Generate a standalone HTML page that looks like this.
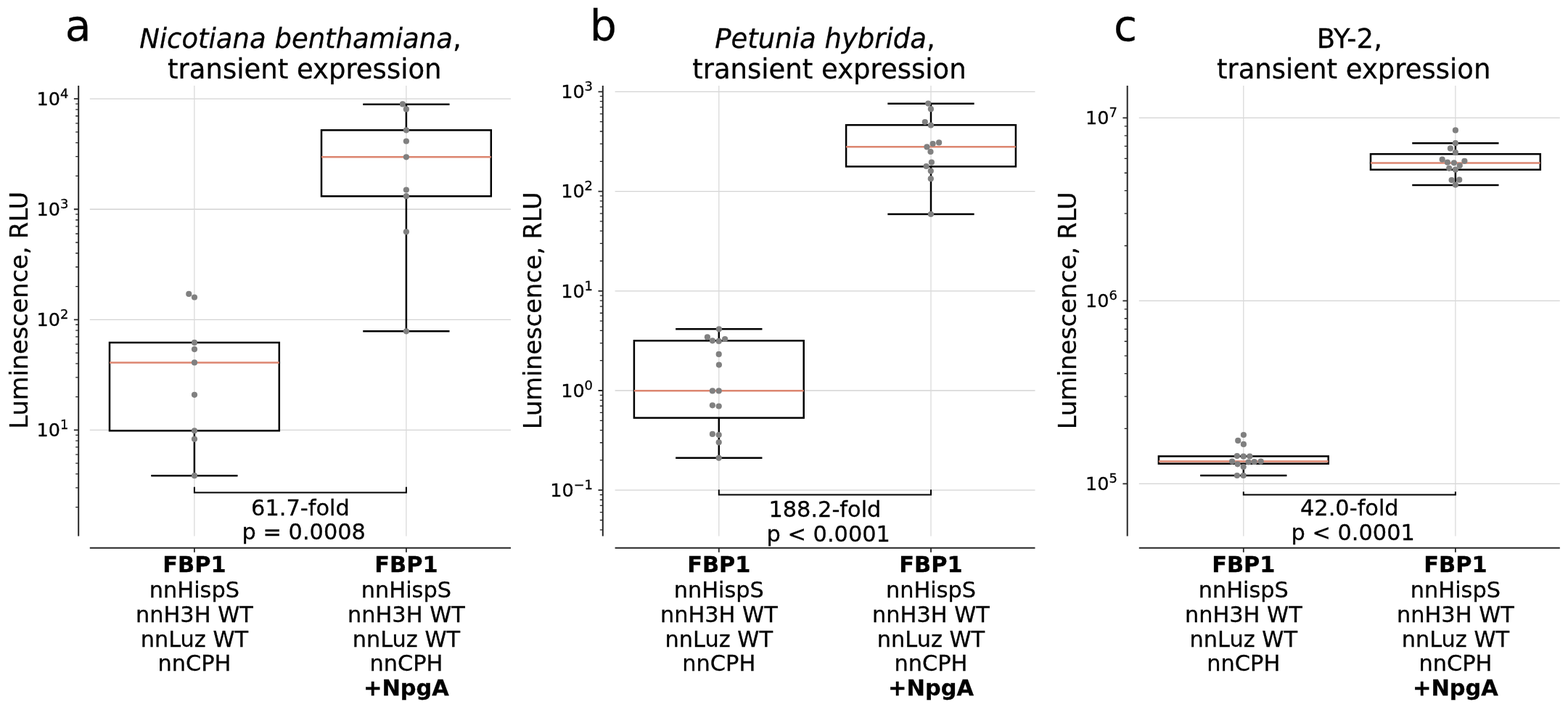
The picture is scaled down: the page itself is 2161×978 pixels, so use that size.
<!DOCTYPE html>
<html><head><meta charset="utf-8"><title>Figure</title>
<style>html,body{margin:0;padding:0;background:#fff;}body{width:2161px;height:978px;overflow:hidden;}svg{display:block;}</style>
</head><body>
<svg width="2161" height="978" viewBox="0 0 2161 978" font-family='"DejaVu Sans", "Liberation Sans", sans-serif'>
<rect width="2161" height="978" fill="#fff"/>
<style>text{stroke:#000;stroke-width:0.3px;paint-order:stroke;}</style>
<path d="M123.8 592.38H704 M123.8 440.31H704 M123.8 288.24H704 M123.8 136.17H704" stroke="#d3d3d3" stroke-width="1.3" fill="none"/>
<path d="M267.9 118V738.4 M559.9 118V738.4" stroke="#dadada" stroke-width="1.3" fill="none"/>
<path d="M108.2 118V738.4M123.8 754.8H704" stroke="#262626" stroke-width="2.0" fill="none"/>
<path d="M101.9 592.38H108.2 M101.9 440.31H108.2 M101.9 288.24H108.2 M101.9 136.17H108.2 M267.9 754.8V760.8 M559.9 754.8V760.8" stroke="#262626" stroke-width="1.8" fill="none"/>
<path d="M104.2 698.67H108.2 M104.2 671.89H108.2 M104.2 652.89H108.2 M104.2 638.16H108.2 M104.2 626.12H108.2 M104.2 615.94H108.2 M104.2 607.12H108.2 M104.2 599.34H108.2 M104.2 546.6H108.2 M104.2 519.82H108.2 M104.2 500.82H108.2 M104.2 486.09H108.2 M104.2 474.05H108.2 M104.2 463.87H108.2 M104.2 455.05H108.2 M104.2 447.27H108.2 M104.2 394.53H108.2 M104.2 367.75H108.2 M104.2 348.75H108.2 M104.2 334.02H108.2 M104.2 321.98H108.2 M104.2 311.8H108.2 M104.2 302.98H108.2 M104.2 295.2H108.2 M104.2 242.46H108.2 M104.2 215.68H108.2 M104.2 196.68H108.2 M104.2 181.95H108.2 M104.2 169.91H108.2 M104.2 159.73H108.2 M104.2 150.91H108.2 M104.2 143.13H108.2" stroke="#262626" stroke-width="1.3" fill="none"/>
<text x="94.4" y="601.08" font-size="25.5" text-anchor="end">10<tspan font-size="17.9" dy="-9.9">1</tspan></text>
<text x="94.4" y="449.01" font-size="25.5" text-anchor="end">10<tspan font-size="17.9" dy="-9.9">2</tspan></text>
<text x="94.4" y="296.94" font-size="25.5" text-anchor="end">10<tspan font-size="17.9" dy="-9.9">3</tspan></text>
<text x="94.4" y="144.87" font-size="25.5" text-anchor="end">10<tspan font-size="17.9" dy="-9.9">4</tspan></text>
<path d="M267.9 593.3V655.2" stroke="#000" stroke-width="2.5" fill="none"/>
<path d="M209.5 655.2H326.3" stroke="#000" stroke-width="2.5" fill="none" stroke-linecap="square"/>
<rect x="151" y="471.9" width="233.8" height="121.4" stroke="#000" stroke-width="2.5" fill="none"/>
<path d="M151 499.4H384.8" stroke="#dc8670" stroke-width="2.5" fill="none"/>
<path d="M559.9 270.3V456.3M559.9 179.3V143.7" stroke="#000" stroke-width="2.5" fill="none"/>
<path d="M501.5 456.3H618.3M501.5 143.7H618.3" stroke="#000" stroke-width="2.5" fill="none" stroke-linecap="square"/>
<rect x="443" y="179.3" width="233.8" height="91" stroke="#000" stroke-width="2.5" fill="none"/>
<path d="M443 216.3H676.8" stroke="#dc8670" stroke-width="2.5" fill="none"/>
<circle cx="260.3" cy="404.9" r="4.1" fill="#808080"/>
<circle cx="268" cy="409.5" r="4.1" fill="#808080"/>
<circle cx="268" cy="471.9" r="4.1" fill="#808080"/>
<circle cx="268" cy="481.1" r="4.1" fill="#808080"/>
<circle cx="268" cy="499.4" r="4.1" fill="#808080"/>
<circle cx="268" cy="543.8" r="4.1" fill="#808080"/>
<circle cx="268" cy="593.3" r="4.1" fill="#808080"/>
<circle cx="268" cy="604.8" r="4.1" fill="#808080"/>
<circle cx="268" cy="655.2" r="4.1" fill="#808080"/>
<circle cx="554.9" cy="143.4" r="4.1" fill="#808080"/>
<circle cx="559.9" cy="150.4" r="4.1" fill="#808080"/>
<circle cx="559.9" cy="179.3" r="4.1" fill="#808080"/>
<circle cx="559.9" cy="194.5" r="4.1" fill="#808080"/>
<circle cx="559.9" cy="216.3" r="4.1" fill="#808080"/>
<circle cx="559.9" cy="261.5" r="4.1" fill="#808080"/>
<circle cx="559.9" cy="270.2" r="4.1" fill="#808080"/>
<circle cx="559.9" cy="319.3" r="4.1" fill="#808080"/>
<circle cx="559.9" cy="456.3" r="4.1" fill="#808080"/>
<path d="M267.9 670.8V678.5H559.9V670.8" stroke="#000" stroke-width="2.0" fill="none"/>
<text x="413.9" y="709.6" font-size="30.4" text-anchor="middle">61.7-fold</text>
<text x="418.7" y="742.9" font-size="30.4" text-anchor="middle">p = 0.0008</text>
<text x="267.9" y="788.3" font-size="30.4" text-anchor="middle" font-weight="bold">FBP1</text>
<text x="267.9" y="823" font-size="30.4" text-anchor="middle">nnHispS</text>
<text x="267.9" y="856.9" font-size="30.4" text-anchor="middle">nnH3H WT</text>
<text x="267.9" y="890.8" font-size="30.4" text-anchor="middle">nnLuz WT</text>
<text x="267.9" y="924.2" font-size="30.4" text-anchor="middle">nnCPH</text>
<text x="559.9" y="788.3" font-size="30.4" text-anchor="middle" font-weight="bold">FBP1</text>
<text x="559.9" y="823" font-size="30.4" text-anchor="middle">nnHispS</text>
<text x="559.9" y="856.9" font-size="30.4" text-anchor="middle">nnH3H WT</text>
<text x="559.9" y="890.8" font-size="30.4" text-anchor="middle">nnLuz WT</text>
<text x="559.9" y="924.2" font-size="30.4" text-anchor="middle">nnCPH</text>
<text x="559.9" y="957.7" font-size="30.4" text-anchor="middle" font-weight="bold">+NpgA</text>
<text transform="translate(37.5 427.3) rotate(-90)" font-size="33.6" text-anchor="middle">Luminescence, RLU</text>
<text x="413.9" y="66.0" font-size="37" text-anchor="middle"><tspan font-style="italic">Nicotiana benthamiana</tspan>,</text>
<text x="419.8" y="107.7" font-size="37" text-anchor="middle">transient expression</text>
<text x="89.7" y="56.2" font-size="58.5">a</text>
<path d="M847.6 675.2H1426.5 M847.6 538H1426.5 M847.6 400.8H1426.5 M847.6 263.6H1426.5 M847.6 126.4H1426.5" stroke="#d3d3d3" stroke-width="1.3" fill="none"/>
<path d="M990.8 118V738.4 M1283 118V738.4" stroke="#dadada" stroke-width="1.3" fill="none"/>
<path d="M830.8 118V738.4M847.6 754.8H1426.5" stroke="#262626" stroke-width="2.0" fill="none"/>
<path d="M824.5 675.2H830.8 M824.5 538H830.8 M824.5 400.8H830.8 M824.5 263.6H830.8 M824.5 126.4H830.8 M990.8 754.8V760.8 M1283 754.8V760.8" stroke="#262626" stroke-width="1.8" fill="none"/>
<path d="M826.8 729.8H830.8 M826.8 716.5H830.8 M826.8 705.64H830.8 M826.8 696.45H830.8 M826.8 688.5H830.8 M826.8 681.48H830.8 M826.8 633.9H830.8 M826.8 609.74H830.8 M826.8 592.6H830.8 M826.8 579.3H830.8 M826.8 568.44H830.8 M826.8 559.25H830.8 M826.8 551.3H830.8 M826.8 544.28H830.8 M826.8 496.7H830.8 M826.8 472.54H830.8 M826.8 455.4H830.8 M826.8 442.1H830.8 M826.8 431.24H830.8 M826.8 422.05H830.8 M826.8 414.1H830.8 M826.8 407.08H830.8 M826.8 359.5H830.8 M826.8 335.34H830.8 M826.8 318.2H830.8 M826.8 304.9H830.8 M826.8 294.04H830.8 M826.8 284.85H830.8 M826.8 276.9H830.8 M826.8 269.88H830.8 M826.8 222.3H830.8 M826.8 198.14H830.8 M826.8 181H830.8 M826.8 167.7H830.8 M826.8 156.84H830.8 M826.8 147.65H830.8 M826.8 139.7H830.8 M826.8 132.68H830.8" stroke="#262626" stroke-width="1.3" fill="none"/>
<text x="817" y="683.9" font-size="25.5" text-anchor="end">10<tspan font-size="17.9" dy="-9.9">−1</tspan></text>
<text x="817" y="546.7" font-size="25.5" text-anchor="end">10<tspan font-size="17.9" dy="-9.9">0</tspan></text>
<text x="817" y="409.5" font-size="25.5" text-anchor="end">10<tspan font-size="17.9" dy="-9.9">1</tspan></text>
<text x="817" y="272.3" font-size="25.5" text-anchor="end">10<tspan font-size="17.9" dy="-9.9">2</tspan></text>
<text x="817" y="135.1" font-size="25.5" text-anchor="end">10<tspan font-size="17.9" dy="-9.9">3</tspan></text>
<path d="M990.8 575.6V630.8M990.8 469.3V453.3" stroke="#000" stroke-width="2.5" fill="none"/>
<path d="M932.4 630.8H1049.2M932.4 453.3H1049.2" stroke="#000" stroke-width="2.5" fill="none" stroke-linecap="square"/>
<rect x="873.9" y="469.3" width="233.8" height="106.3" stroke="#000" stroke-width="2.5" fill="none"/>
<path d="M873.9 538.3H1107.7" stroke="#dc8670" stroke-width="2.5" fill="none"/>
<path d="M1283 229.4V295M1283 172.2V142.7" stroke="#000" stroke-width="2.5" fill="none"/>
<path d="M1224.6 295H1341.4M1224.6 142.7H1341.4" stroke="#000" stroke-width="2.5" fill="none" stroke-linecap="square"/>
<rect x="1166.1" y="172.2" width="233.8" height="57.2" stroke="#000" stroke-width="2.5" fill="none"/>
<path d="M1166.1 202.2H1399.9" stroke="#dc8670" stroke-width="2.5" fill="none"/>
<circle cx="990.9" cy="453.3" r="4.1" fill="#808080"/>
<circle cx="974.9" cy="464.4" r="4.1" fill="#808080"/>
<circle cx="981.9" cy="469.3" r="4.1" fill="#808080"/>
<circle cx="990.7" cy="469.9" r="4.1" fill="#808080"/>
<circle cx="999.1" cy="467" r="4.1" fill="#808080"/>
<circle cx="990.7" cy="487.9" r="4.1" fill="#808080"/>
<circle cx="990.9" cy="502.6" r="4.1" fill="#808080"/>
<circle cx="981.9" cy="538.4" r="4.1" fill="#808080"/>
<circle cx="990.7" cy="538.4" r="4.1" fill="#808080"/>
<circle cx="981.9" cy="558.3" r="4.1" fill="#808080"/>
<circle cx="990.7" cy="559.5" r="4.1" fill="#808080"/>
<circle cx="981.9" cy="597.9" r="4.1" fill="#808080"/>
<circle cx="990.7" cy="599.1" r="4.1" fill="#808080"/>
<circle cx="990.7" cy="609.3" r="4.1" fill="#808080"/>
<circle cx="990.7" cy="630.8" r="4.1" fill="#808080"/>
<circle cx="1279.2" cy="142.6" r="4.1" fill="#808080"/>
<circle cx="1282.9" cy="150.2" r="4.1" fill="#808080"/>
<circle cx="1274.8" cy="168.1" r="4.1" fill="#808080"/>
<circle cx="1282.9" cy="172.5" r="4.1" fill="#808080"/>
<circle cx="1294.1" cy="196.4" r="4.1" fill="#808080"/>
<circle cx="1285.6" cy="198" r="4.1" fill="#808080"/>
<circle cx="1277.5" cy="202.4" r="4.1" fill="#808080"/>
<circle cx="1282.5" cy="209" r="4.1" fill="#808080"/>
<circle cx="1283.9" cy="223.6" r="4.1" fill="#808080"/>
<circle cx="1276.6" cy="229" r="4.1" fill="#808080"/>
<circle cx="1282.8" cy="235.6" r="4.1" fill="#808080"/>
<circle cx="1282.8" cy="246.2" r="4.1" fill="#808080"/>
<circle cx="1282.9" cy="295" r="4.1" fill="#808080"/>
<path d="M990.8 674.4V681.5H1283V674.4" stroke="#000" stroke-width="2.0" fill="none"/>
<text x="1136.9" y="711.8" font-size="30.4" text-anchor="middle">188.2-fold</text>
<text x="1141.7" y="745.6" font-size="30.4" text-anchor="middle">p &lt; 0.0001</text>
<text x="990.8" y="788.3" font-size="30.4" text-anchor="middle" font-weight="bold">FBP1</text>
<text x="990.8" y="823" font-size="30.4" text-anchor="middle">nnHispS</text>
<text x="990.8" y="856.9" font-size="30.4" text-anchor="middle">nnH3H WT</text>
<text x="990.8" y="890.8" font-size="30.4" text-anchor="middle">nnLuz WT</text>
<text x="990.8" y="924.2" font-size="30.4" text-anchor="middle">nnCPH</text>
<text x="1283" y="788.3" font-size="30.4" text-anchor="middle" font-weight="bold">FBP1</text>
<text x="1283" y="823" font-size="30.4" text-anchor="middle">nnHispS</text>
<text x="1283" y="856.9" font-size="30.4" text-anchor="middle">nnH3H WT</text>
<text x="1283" y="890.8" font-size="30.4" text-anchor="middle">nnLuz WT</text>
<text x="1283" y="924.2" font-size="30.4" text-anchor="middle">nnCPH</text>
<text x="1283" y="957.7" font-size="30.4" text-anchor="middle" font-weight="bold">+NpgA</text>
<text transform="translate(745.5 427.85) rotate(-90)" font-size="33.6" text-anchor="middle">Luminescence, RLU</text>
<text x="1137" y="66.0" font-size="37" text-anchor="middle"><tspan font-style="italic">Petunia hybrida</tspan>,</text>
<text x="1142.9" y="107.7" font-size="37" text-anchor="middle">transient expression</text>
<text x="812.7" y="56.2" font-size="58.5">b</text>
<path d="M1569.8 666.3H2149.8 M1569.8 414.35H2149.8 M1569.8 162.4H2149.8" stroke="#d3d3d3" stroke-width="1.3" fill="none"/>
<path d="M1713.8 118V738.4 M2005.9 118V738.4" stroke="#dadada" stroke-width="1.3" fill="none"/>
<path d="M1553.7 118V738.4M1569.8 754.8H2149.8" stroke="#262626" stroke-width="2.0" fill="none"/>
<path d="M1547.4 666.3H1553.7 M1547.4 414.35H1553.7 M1547.4 162.4H1553.7 M1713.8 754.8V760.8 M2005.9 754.8V760.8" stroke="#262626" stroke-width="1.8" fill="none"/>
<path d="M1549.7 590.46H1553.7 M1549.7 546.09H1553.7 M1549.7 514.61H1553.7 M1549.7 490.19H1553.7 M1549.7 470.24H1553.7 M1549.7 453.38H1553.7 M1549.7 438.77H1553.7 M1549.7 425.88H1553.7 M1549.7 338.51H1553.7 M1549.7 294.14H1553.7 M1549.7 262.66H1553.7 M1549.7 238.24H1553.7 M1549.7 218.29H1553.7 M1549.7 201.43H1553.7 M1549.7 186.82H1553.7 M1549.7 173.93H1553.7" stroke="#262626" stroke-width="1.3" fill="none"/>
<text x="1539.9" y="675" font-size="25.5" text-anchor="end">10<tspan font-size="17.9" dy="-9.9">5</tspan></text>
<text x="1539.9" y="423.05" font-size="25.5" text-anchor="end">10<tspan font-size="17.9" dy="-9.9">6</tspan></text>
<text x="1539.9" y="171.1" font-size="25.5" text-anchor="end">10<tspan font-size="17.9" dy="-9.9">7</tspan></text>
<path d="M1713.8 638.7V655" stroke="#000" stroke-width="2.5" fill="none"/>
<path d="M1655.4 655H1772.2" stroke="#000" stroke-width="2.5" fill="none" stroke-linecap="square"/>
<rect x="1596.9" y="628.5" width="233.8" height="10.2" stroke="#000" stroke-width="2.5" fill="none"/>
<path d="M1596.9 635.6H1830.7" stroke="#dc8670" stroke-width="2.5" fill="none"/>
<path d="M2005.9 233.7V255M2005.9 212.2V197.2" stroke="#000" stroke-width="2.5" fill="none"/>
<path d="M1947.5 255H2064.3M1947.5 197.2H2064.3" stroke="#000" stroke-width="2.5" fill="none" stroke-linecap="square"/>
<rect x="1889" y="212.2" width="233.8" height="21.5" stroke="#000" stroke-width="2.5" fill="none"/>
<path d="M1889 224.6H2122.8" stroke="#dc8670" stroke-width="2.5" fill="none"/>
<circle cx="1713.9" cy="599" r="4.1" fill="#808080"/>
<circle cx="1706.2" cy="606.9" r="4.1" fill="#808080"/>
<circle cx="1713.9" cy="611.9" r="4.1" fill="#808080"/>
<circle cx="1704.9" cy="628.1" r="4.1" fill="#808080"/>
<circle cx="1713.7" cy="628.7" r="4.1" fill="#808080"/>
<circle cx="1722.4" cy="628.5" r="4.1" fill="#808080"/>
<circle cx="1698.1" cy="635.6" r="4.1" fill="#808080"/>
<circle cx="1705.6" cy="639.3" r="4.1" fill="#808080"/>
<circle cx="1713.7" cy="643.1" r="4.1" fill="#808080"/>
<circle cx="1720.6" cy="636.5" r="4.1" fill="#808080"/>
<circle cx="1728.7" cy="636.2" r="4.1" fill="#808080"/>
<circle cx="1737.7" cy="635.6" r="4.1" fill="#808080"/>
<circle cx="1704.9" cy="655" r="4.1" fill="#808080"/>
<circle cx="1713.7" cy="655" r="4.1" fill="#808080"/>
<circle cx="2005.9" cy="179.4" r="4.1" fill="#808080"/>
<circle cx="2005.9" cy="197.2" r="4.1" fill="#808080"/>
<circle cx="1998.9" cy="204.4" r="4.1" fill="#808080"/>
<circle cx="2005.9" cy="210" r="4.1" fill="#808080"/>
<circle cx="1987.7" cy="219.7" r="4.1" fill="#808080"/>
<circle cx="1994.9" cy="223.7" r="4.1" fill="#808080"/>
<circle cx="2003.9" cy="224.3" r="4.1" fill="#808080"/>
<circle cx="2018.4" cy="221.8" r="4.1" fill="#808080"/>
<circle cx="2011.8" cy="228.1" r="4.1" fill="#808080"/>
<circle cx="1997.2" cy="231.8" r="4.1" fill="#808080"/>
<circle cx="2005.9" cy="233.7" r="4.1" fill="#808080"/>
<circle cx="2000.6" cy="248.1" r="4.1" fill="#808080"/>
<circle cx="2011.2" cy="247.7" r="4.1" fill="#808080"/>
<circle cx="2005.9" cy="254.6" r="4.1" fill="#808080"/>
<path d="M1713.8 677.3V681.5H2005.9V677.3" stroke="#000" stroke-width="2.0" fill="none"/>
<text x="1859.85" y="709.6" font-size="30.4" text-anchor="middle">42.0-fold</text>
<text x="1864.65" y="743.7" font-size="30.4" text-anchor="middle">p &lt; 0.0001</text>
<text x="1713.8" y="788.3" font-size="30.4" text-anchor="middle" font-weight="bold">FBP1</text>
<text x="1713.8" y="823" font-size="30.4" text-anchor="middle">nnHispS</text>
<text x="1713.8" y="856.9" font-size="30.4" text-anchor="middle">nnH3H WT</text>
<text x="1713.8" y="890.8" font-size="30.4" text-anchor="middle">nnLuz WT</text>
<text x="1713.8" y="924.2" font-size="30.4" text-anchor="middle">nnCPH</text>
<text x="2005.9" y="788.3" font-size="30.4" text-anchor="middle" font-weight="bold">FBP1</text>
<text x="2005.9" y="823" font-size="30.4" text-anchor="middle">nnHispS</text>
<text x="2005.9" y="856.9" font-size="30.4" text-anchor="middle">nnH3H WT</text>
<text x="2005.9" y="890.8" font-size="30.4" text-anchor="middle">nnLuz WT</text>
<text x="2005.9" y="924.2" font-size="30.4" text-anchor="middle">nnCPH</text>
<text x="2005.9" y="957.7" font-size="30.4" text-anchor="middle" font-weight="bold">+NpgA</text>
<text transform="translate(1483.3 427.8) rotate(-90)" font-size="33.6" text-anchor="middle">Luminescence, RLU</text>
<text x="1859.8" y="66.0" font-size="37" text-anchor="middle">BY-2,</text>
<text x="1865.7" y="107.7" font-size="37" text-anchor="middle">transient expression</text>
<text x="1535.1" y="56.2" font-size="58.5">c</text>
</svg>
</body></html>
